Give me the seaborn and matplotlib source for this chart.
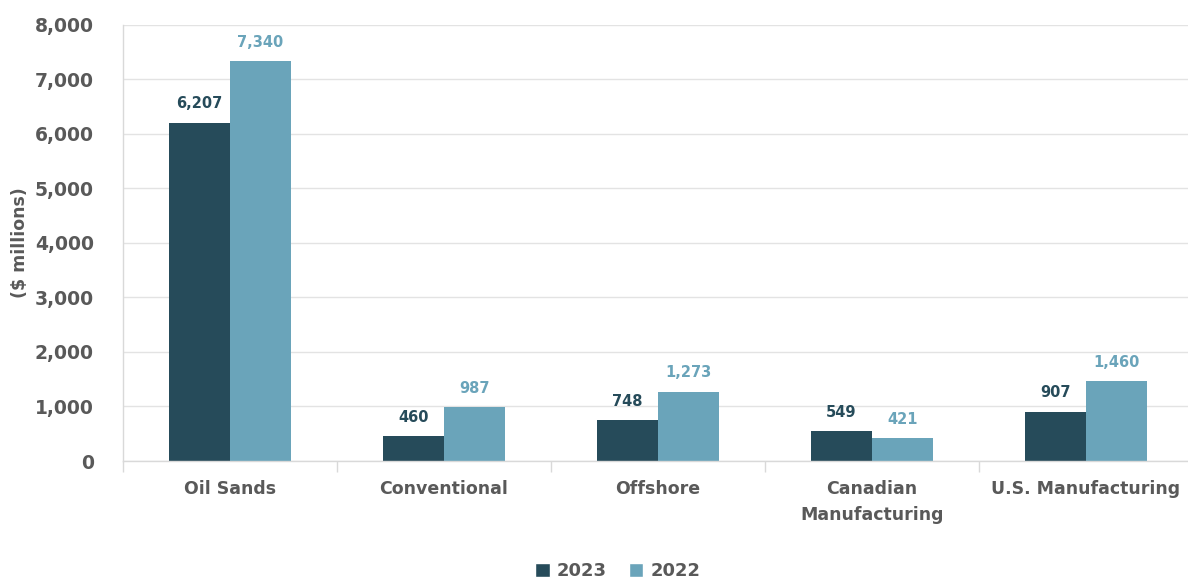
import matplotlib
matplotlib.use("Agg")
import matplotlib.pyplot as plt
import seaborn as sns
import pandas as pd
import numpy as np
from matplotlib.ticker import FuncFormatter, FixedLocator
from matplotlib.patches import Patch

categories = ["Oil Sands", "Conventional", "Offshore", "Canadian\nManufacturing", "U.S. Manufacturing"]
values_2023 = [6207, 460, 748, 549, 907]
values_2022 = [7340, 987, 1273, 421, 1460]
years = ["2023", "2022"]
colors = {"2023": "#264B5A", "2022": "#6AA4BA"}
text_gray = "#595959"

df = pd.DataFrame({
    "category": categories * 2,
    "year": ["2023"] * len(categories) + ["2022"] * len(categories),
    "value": values_2023 + values_2022,
})

sns.set_theme(style="white")
plt.rcParams["font.family"] = ["DejaVu Sans"]

fig = plt.figure(figsize=(11.88, 5.78), dpi=100)
ax = fig.add_axes([0.1035, 0.2024, 0.9007, 0.7546])

sns.barplot(data=df, x="category", y="value", hue="year", hue_order=years,
            palette=colors, width=0.57, saturation=1, ax=ax, legend=False,
            linewidth=0, edgecolor="none")

for container, yr in zip(ax.containers, years):
    ax.bar_label(container, labels=[f"{v:,.0f}" for v in container.datavalues],
                 padding=8, fontsize=10.5, fontweight="bold", color=colors[yr])

ax.set_ylim(0, 8000)
ax.set_xlim(-0.5, len(categories) - 0.5)
ax.set_yticks(np.arange(0, 8001, 1000))
ax.yaxis.set_major_formatter(FuncFormatter(lambda v, p: f"{v:,.0f}"))
ax.grid(axis="y", color="#E3E3E3", linewidth=1)
ax.set_axisbelow(True)
for s in ["top", "right"]:
    ax.spines[s].set_visible(False)
for s in ["left", "bottom"]:
    ax.spines[s].set_color("#D9D9D9")
    ax.spines[s].set_linewidth(1)

ax.tick_params(axis="y", labelsize=13.5, labelcolor=text_gray, length=0, pad=21)
for lbl in ax.get_yticklabels():
    lbl.set_fontweight("bold")
ax.tick_params(axis="x", which="major", length=0, labelsize=12.5, labelcolor=text_gray, pad=14)
for lbl in ax.get_xticklabels():
    lbl.set_fontweight("bold")
    lbl.set_linespacing(1.55)
ax.xaxis.set_minor_locator(FixedLocator(np.arange(-0.5, len(categories), 1.0)))
ax.tick_params(axis="x", which="minor", length=8, color="#D9D9D9", width=1, bottom=True)

ax.set_xlabel("")
ax.set_ylabel("($ millions)", fontsize=12.5, fontweight="bold", color=text_gray, labelpad=4)

handles = [Patch(facecolor=colors[y], label=y) for y in years]
fig.legend(handles=handles, loc="center", bbox_to_anchor=(0.52, 0.012), ncol=2, frameon=False,
           prop={"size": 13, "weight": "bold"}, labelcolor=text_gray,
           handlelength=0.8, handleheight=0.8, handletextpad=0.4, columnspacing=1.2)

fig.savefig("out.png", dpi=100)
